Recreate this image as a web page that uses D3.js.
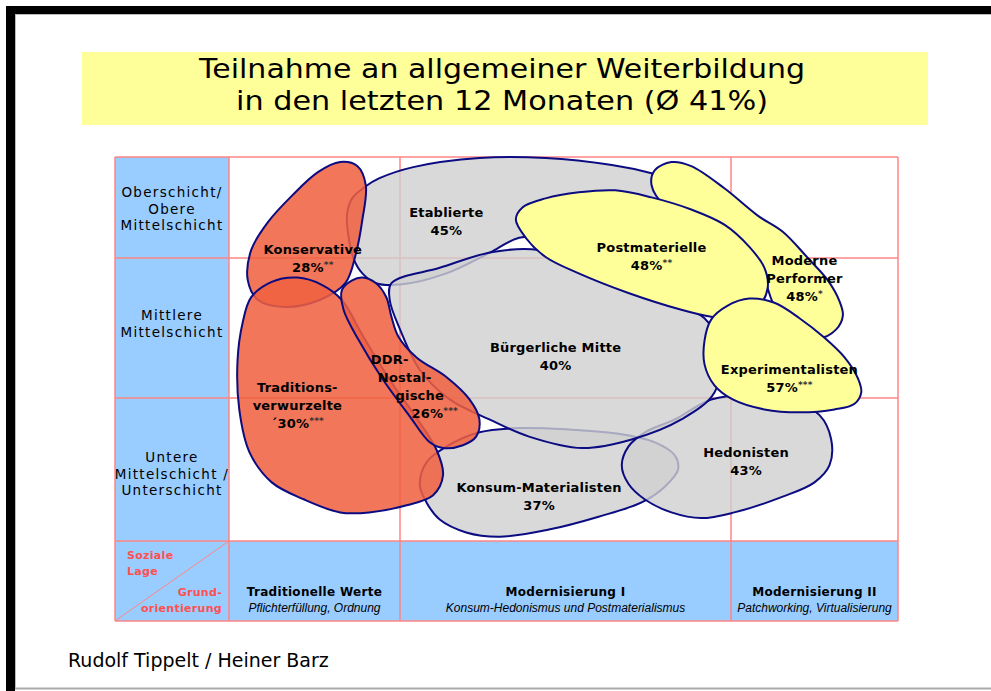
<!DOCTYPE html>
<html>
<head>
<meta charset="utf-8">
<script src="https://cdn.jsdelivr.net/npm/d3@7"></script>
<style>
  html, body { margin: 0; padding: 0; background: #fff; }
  svg { display: block; }
</style>
</head>
<body>
<div id="chart"></div>
<script>
// Sinus-Milieus: Weiterbildungsbeteiligung je Milieu.
// x = Grundorientierung (0..3, one unit per column), y = soziale Lage (0..3, one unit per row).

const titleLines = ["Teilnahme an allgemeiner Weiterbildung", "in den letzten 12 Monaten (Ø 41%)"];
const source = "Rudolf Tippelt / Heiner Barz";

const rowLabels = [
  ["Oberschicht/", "Obere", "Mittelschicht"],
  ["Mittlere", "Mittelschicht"],
  ["Untere", "Mittelschicht /", "Unterschicht"]
];
const colLabels = ["Traditionelle Werte", "Modernisierung I", "Modernisierung II"];
const colNotes = ["Pflichterfüllung, Ordnung", "Konsum-Hedonismus und Postmaterialismus", "Patchworking, Virtualisierung"];
const cornerRow = ["Soziale", "Lage"];
const cornerCol = ["Grund-", "orientierung"];

// drawn in this order (bottom to top)
const milieus = ["Etablierte", "Konsum-Materialisten", "Hedonisten", "Bürgerliche Mitte", "Konservative",
  "Traditionsverwurzelte", "DDR-Nostalgische", "Moderne Performer", "Postmaterielle", "Experimentalisten"];
const nameLines = [["Etablierte"], ["Konsum-Materialisten"], ["Hedonisten"], ["Bürgerliche Mitte"], ["Konservative"],
  ["Traditions-", "verwurzelte"], ["DDR-", "Nostal-", "gische"], ["Moderne", "Performer"], ["Postmaterielle"], ["Experimentalisten"]];
const shares = [45, 37, 43, 40, 28, 30, 26, 48, 48, 57];
const sharePrefix = ["", "", "", "", "", "´", "", "", "", ""];
const signif = ["", "", "", "", "**", "***", "***", "*", "**", "***"];
const family = ["gray", "gray", "gray", "gray", "red", "red", "red", "yellow", "yellow", "yellow"];
const labelAt = [[1.14, 0.59], [1.42, 2.66], [2.09, 2.41], [1.47, 1.67], [0.49, 0.96],
  [0.40, 1.96], [0.94, 1.76], [2.44, 1.05], [1.76, 0.94], [2.35, 1.83]];

const outlines = [
  // Etablierte
  [[0.69,0.57],[0.72,0.41],[0.80,0.29],[0.88,0.21],[1.04,0.10],[1.24,0.01],[1.44,0.01],[1.64,0.08],[1.76,0.16],
   [1.88,0.28],[1.94,0.48],[1.91,0.67],[1.76,0.74],[1.54,0.78],[1.36,0.80],[1.27,0.95],[1.14,1.11],[1.00,1.19],
   [0.86,1.18],[0.78,1.11],[0.73,1.01],[0.70,0.80]],
  // Konsum-Materialisten
  [[1.06,2.61],[1.08,2.45],[1.14,2.34],[1.24,2.24],[1.36,2.21],[1.51,2.22],[1.66,2.25],[1.77,2.31],[1.83,2.40],
   [1.84,2.50],[1.80,2.62],[1.73,2.73],[1.60,2.83],[1.45,2.92],[1.30,2.97],[1.20,2.94],[1.12,2.85],[1.08,2.73]],
  // Hedonisten
  [[1.67,2.47],[1.69,2.34],[1.74,2.24],[1.83,2.15],[1.94,2.01],[2.11,1.98],[2.35,2.01],[2.53,2.12],[2.60,2.29],
   [2.59,2.47],[2.50,2.59],[2.31,2.69],[2.02,2.80],[1.91,2.84],[1.82,2.80],[1.74,2.71],[1.69,2.60]],
  // Bürgerliche Mitte
  [[0.95,1.18],[1.12,1.07],[1.28,0.94],[1.42,0.92],[1.60,1.07],[1.79,1.30],[1.92,1.43],[1.97,1.66],[1.95,1.96],
   [1.85,2.15],[1.70,2.29],[1.55,2.35],[1.39,2.27],[1.27,2.15],[1.15,2.01],[1.06,1.80],[1.00,1.51],[0.94,1.30]],
  // Konservative
  [[0.65,0.05],[0.75,0.09],[0.80,0.28],[0.78,0.62],[0.74,0.97],[0.68,1.18],[0.53,1.30],[0.33,1.35],[0.17,1.30],
   [0.11,1.16],[0.13,0.92],[0.23,0.64],[0.37,0.38],[0.52,0.15]],
  // Traditionsverwurzelte
  [[0.13,1.28],[0.25,1.17],[0.40,1.14],[0.54,1.19],[0.66,1.30],[0.78,1.55],[0.94,1.87],[1.05,2.14],[1.11,2.36],
   [1.13,2.54],[1.10,2.68],[1.02,2.75],[0.82,2.80],[0.65,2.80],[0.44,2.71],[0.25,2.59],[0.12,2.38],[0.06,2.08],
   [0.05,1.73],[0.08,1.46]],
  // DDR-Nostalgische
  [[0.66,1.23],[0.72,1.16],[0.78,1.14],[0.86,1.18],[0.92,1.28],[0.95,1.42],[0.99,1.56],[1.05,1.71],[1.14,1.85],
   [1.21,2.01],[1.24,2.15],[1.23,2.27],[1.19,2.33],[1.13,2.35],[1.09,2.31],[1.03,2.13],[0.89,1.85],[0.76,1.59],
   [0.67,1.37]],
  // Moderne Performer
  [[1.76,0.28],[1.77,0.13],[1.82,0.05],[1.88,0.09],[1.98,0.31],[2.16,0.58],[2.31,0.74],[2.46,1.00],[2.58,1.16],
   [2.65,1.31],[2.67,1.41],[2.63,1.51],[2.53,1.57],[2.38,1.48],[2.26,1.34],[2.20,1.16],[2.05,0.87],[1.91,0.62],
   [1.80,0.48]],
  // Postmaterielle
  [[1.35,0.62],[1.37,0.50],[1.44,0.41],[1.54,0.35],[1.65,0.33],[1.76,0.40],[1.88,0.52],[1.98,0.67],[2.11,0.89],
   [2.20,1.07],[2.22,1.21],[2.17,1.34],[2.02,1.43],[1.94,1.42],[1.85,1.37],[1.69,1.25],[1.54,1.11],[1.44,0.99],
   [1.38,0.80]],
  // Experimentalisten
  [[1.92,1.59],[1.94,1.44],[1.99,1.34],[2.11,1.29],[2.26,1.32],[2.41,1.43],[2.56,1.57],[2.68,1.71],[2.76,1.86],
   [2.78,1.96],[2.74,2.04],[2.62,2.08],[2.41,2.10],[2.20,2.08],[2.01,2.01],[1.95,1.91],[1.92,1.76]]
];

// ---- layout & style ----
const W = 991, H = 691;
const colEdges = [229, 400, 731, 898];
const rowEdges = [157, 258, 398, 541];
const labelLeft = 115, stripBottom = 621;
const gridColor = "#ff8585";
const blue = "#99ccff";
const fills = { gray: "#d0d0d0", red: "#f0603f", yellow: "#ffff99" };
const fillOpacity = { gray: 0.8, red: 0.86, yellow: 1 };
const labelSlant = { "DDR-Nostalgische": 15 };
const rowLabelShift = [1, -4.5, 4];
const font = "'DejaVu Sans', Verdana, sans-serif";

const svg = d3.select("#chart").append("svg")
  .attr("width", W).attr("height", H).attr("viewBox", `0 0 ${W} ${H}`);
svg.append("rect").attr("width", W).attr("height", H).attr("fill", "#fff");

const x = d3.scaleLinear().domain(d3.range(4)).range(colEdges);
const y = d3.scaleLinear().domain(d3.range(4)).range(rowEdges);

// title
svg.append("rect").attr("x", 82).attr("y", 52).attr("width", 846).attr("height", 73).attr("fill", "#ffff99");
const titleWidths = [606, 532];
svg.append("g").selectAll("text").data(titleLines).join("text")
  .attr("x", 502).attr("y", (d, i) => 78 + i * 32)
  .attr("text-anchor", "middle").attr("font-family", font).attr("font-size", 27).attr("fill", "#000")
  .attr("textLength", (d, i) => titleWidths[i]).attr("lengthAdjust", "spacingAndGlyphs")
  .text((d) => d);

// blue header cells
svg.append("rect").attr("x", labelLeft).attr("y", y(0)).attr("width", x(0) - labelLeft)
  .attr("height", y(3) - y(0)).attr("fill", blue);
svg.append("rect").attr("x", labelLeft).attr("y", y(3)).attr("width", x(3) - labelLeft)
  .attr("height", stripBottom - y(3)).attr("fill", blue);

// grid
const grid = svg.append("g").attr("stroke", gridColor).attr("stroke-width", 1.5).attr("fill", "none");
grid.selectAll("line.h").data(d3.range(4)).join("line").attr("class", "h")
  .attr("x1", labelLeft).attr("x2", x(3)).attr("y1", (d) => y(d)).attr("y2", (d) => y(d));
grid.append("line").attr("x1", labelLeft).attr("x2", x(3)).attr("y1", stripBottom).attr("y2", stripBottom);
grid.selectAll("line.v").data(d3.range(4)).join("line").attr("class", "v")
  .attr("x1", (d) => x(d)).attr("x2", (d) => x(d)).attr("y1", y(0)).attr("y2", stripBottom);
grid.append("line").attr("x1", labelLeft).attr("x2", labelLeft).attr("y1", y(0)).attr("y2", stripBottom);
grid.append("line").attr("x1", labelLeft).attr("y1", stripBottom).attr("x2", x(0)).attr("y2", y(3)).attr("stroke-width", 1);

// milieu shapes
const shape = d3.line().x((p) => x(p[0])).y((p) => y(p[1])).curve(d3.curveCatmullRomClosed.alpha(0.5));
svg.append("g").selectAll("path").data(milieus).join("path")
  .attr("d", (d, i) => shape(outlines[i]))
  .attr("fill", (d, i) => fills[family[i]])
  .attr("fill-opacity", (d, i) => fillOpacity[family[i]])
  .attr("stroke", "#0b0b82").attr("stroke-width", 2);

// milieu labels
const lab = svg.append("g").attr("font-family", font).attr("font-weight", "bold").attr("font-size", 13)
  .attr("fill", "#000").attr("text-anchor", "middle").attr("letter-spacing", 0.2);
milieus.forEach((name, i) => {
  const cx = x(labelAt[i][0]), by = y(labelAt[i][1]);
  const slant = labelSlant[name] || 0;
  const lines = nameLines[i];
  lines.forEach((ln, j) => {
    lab.append("text").attr("x", cx + j * slant).attr("y", by + j * 18).text(ln);
  });
  const n = lines.length;
  const t = lab.append("text").attr("x", cx + n * slant).attr("y", by + n * 18);
  t.append("tspan").text(`${sharePrefix[i]}${shares[i]}%`);
  if (signif[i]) t.append("tspan").attr("font-size", 9).attr("fill", "#333").attr("dy", -4).text(signif[i]);
});

// row labels (soziale Lage)
const rowG = svg.append("g").attr("font-family", font).attr("font-size", 13.5).attr("letter-spacing", 1.3)
  .attr("text-anchor", "middle").attr("fill", "#000");
rowLabels.forEach((lines, r) => {
  const mid = (y(r) + y(r + 1)) / 2;
  const first = mid - (lines.length - 1) / 2 * 16 + 4.5 + rowLabelShift[r];
  lines.forEach((ln, j) => rowG.append("text").attr("x", (labelLeft + x(0)) / 2).attr("y", first + j * 16.5).text(ln));
});

// column labels (Grundorientierung)
const colG = svg.append("g").attr("text-anchor", "middle").attr("fill", "#000");
colLabels.forEach((lbl, c) => {
  const cx = (x(c) + x(c + 1)) / 2;
  colG.append("text").attr("x", cx).attr("y", 596).attr("font-family", font).attr("font-weight", "bold")
    .attr("font-size", 12).attr("letter-spacing", 0.3).text(lbl);
  colG.append("text").attr("x", cx).attr("y", 612).attr("font-family", "'Liberation Sans', Arial, sans-serif")
    .attr("font-style", "italic").attr("font-size", 12).text(colNotes[c]);
});

// corner cell
const corner = svg.append("g").attr("font-family", font).attr("font-weight", "bold").attr("font-size", 11)
  .attr("fill", "#ff4f4f").attr("letter-spacing", 0.3);
cornerRow.forEach((t, j) => corner.append("text").attr("x", 127).attr("y", 559 + j * 16).text(t));
cornerCol.forEach((t, j) => corner.append("text").attr("x", 222).attr("y", 596 + j * 16)
  .attr("text-anchor", "end").text(t));

// source
svg.append("text").attr("x", 68).attr("y", 667).attr("font-family", font).attr("font-size", 19)
  .attr("fill", "#000").text(source);

// slide frame
svg.append("rect").attr("x", 6).attr("y", 6).attr("width", 9).attr("height", H - 6).attr("fill", "#000");
svg.append("rect").attr("x", 6).attr("y", 6).attr("width", W - 6).attr("height", 8).attr("fill", "#000");
svg.append("line").attr("x1", 15).attr("x2", W).attr("y1", 688.5).attr("y2", 688.5)
  .attr("stroke", "#aaa").attr("stroke-width", 2);
svg.append("line").attr("x1", 15.5).attr("x2", 15.5).attr("y1", 14).attr("y2", 688)
  .attr("stroke", "#bbb").attr("stroke-width", 1);
svg.append("line").attr("x1", 15).attr("x2", W).attr("y1", 14.5).attr("y2", 14.5)
  .attr("stroke", "#bbb").attr("stroke-width", 1);
</script>
</body>
</html>
